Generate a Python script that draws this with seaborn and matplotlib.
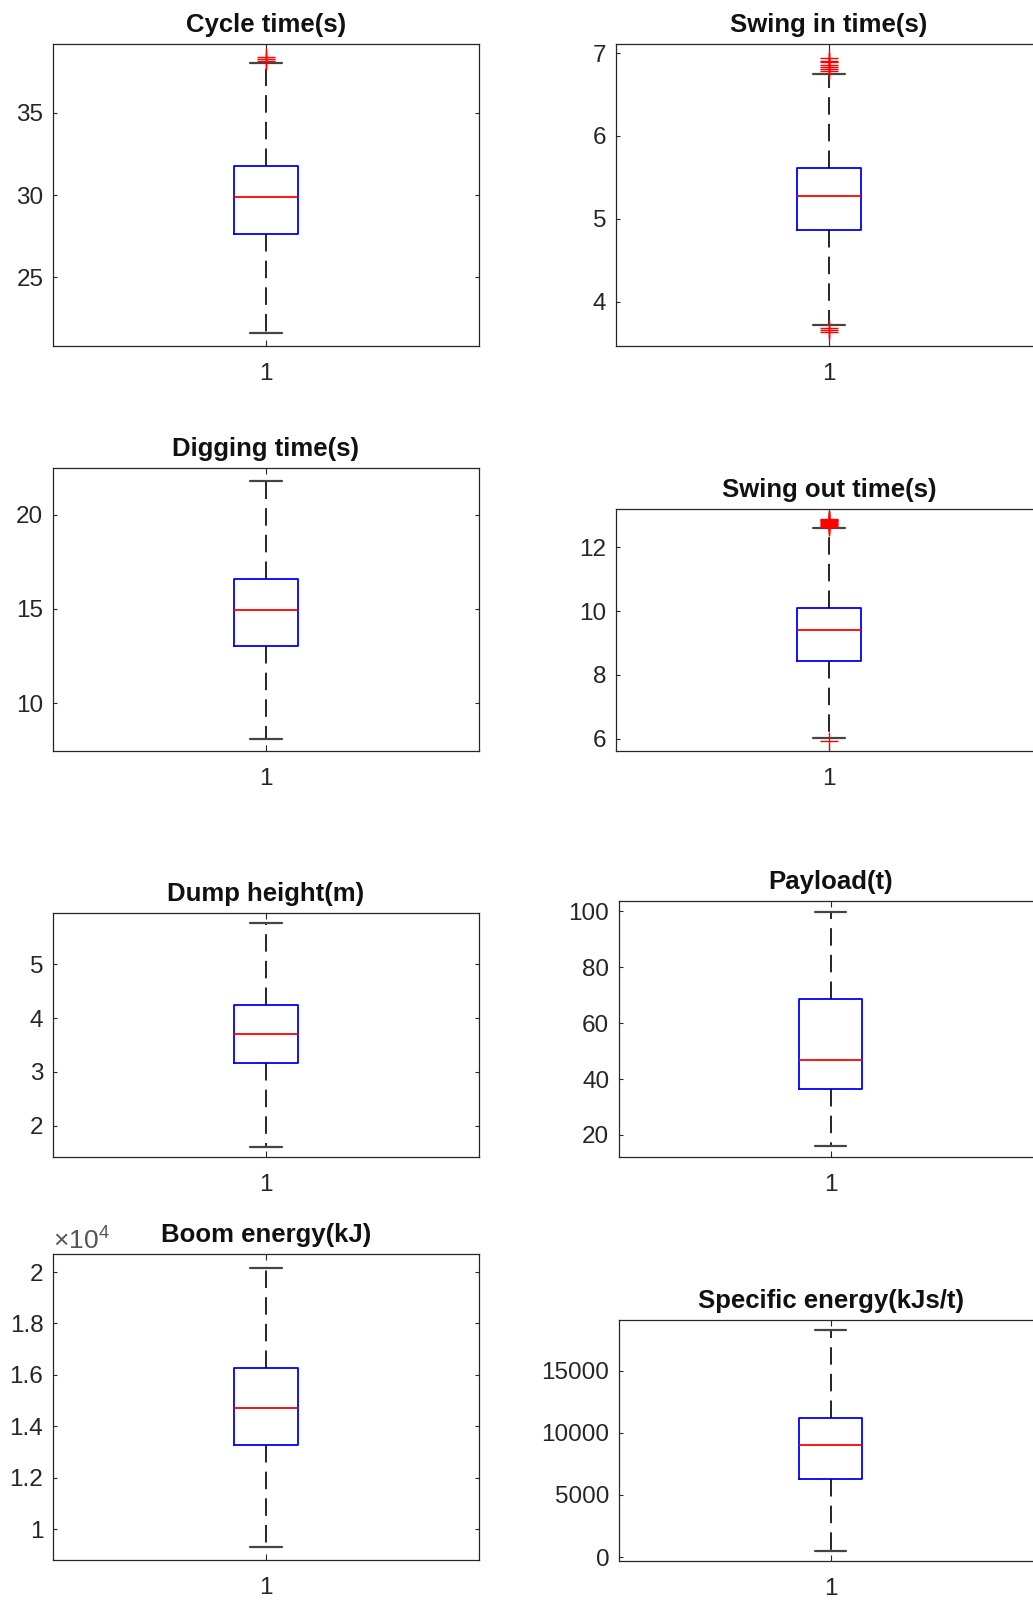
import matplotlib
matplotlib.use("Agg")
import matplotlib.pyplot as plt
from matplotlib.ticker import FuncFormatter
import seaborn as sns

# Box statistics for each excavator cycle metric
titles = ["Cycle time(s)", "Swing in time(s)", "Digging time(s)", "Swing out time(s)",
          "Dump height(m)", "Payload(t)", "Boom energy(kJ)", "Specific energy(kJs/t)"]
whisker_low = [21.6, 3.72, 8.1, 6.02, 1.60, 16.1, 9320, 510]
quartile_1 = [27.6, 4.86, 13.03, 8.44, 3.17, 36.4, 13260, 6310]
medians = [29.9, 5.28, 14.93, 9.39, 3.70, 46.8, 14730, 9060]
quartile_3 = [31.79, 5.61, 16.61, 10.10, 4.25, 68.7, 16270, 11180]
whisker_high = [38.03, 6.75, 21.81, 12.59, 5.76, 99.8, 20170, 18270]
outliers = [
    [38.17, 38.30, 38.38],
    [6.78, 6.81, 6.83, 6.86, 6.89, 6.91, 6.94, 3.63, 3.657, 3.686],
    [],
    [12.63, 12.66, 12.69, 12.72, 12.75, 12.78, 12.81, 12.84, 12.87, 12.90, 5.92],
    [],
    [],
    [],
    [],
]
y_limits = [(20.8, 39.2), (3.465, 7.11), (7.46, 22.48), (5.61, 13.2),
            (1.42, 5.95), (12.1, 103.7), (8810, 20700), (-320, 19100)]
y_ticks = [[25, 30, 35], [4, 5, 6, 7], [10, 15, 20], [6, 8, 10, 12],
           [2, 3, 4, 5], [20, 40, 60, 80, 100],
           [10000, 12000, 14000, 16000, 18000, 20000], [0, 5000, 10000, 15000]]
x_tick_labels = ["1"]

# Panel frames in pixels: left, top, bottom, width
W, H = 1033, 1600
frames = [(53, 44, 346, 426), (616, 44, 346, 426),
          (53, 468, 751, 426), (616, 509, 751, 426),
          (53, 913, 1157, 426), (619, 901, 1157, 423),
          (53, 1254, 1560, 426), (619, 1320, 1561, 423)]

sns.set_theme(style="white")
plt.rcParams["font.family"] = ["Liberation Sans", "DejaVu Sans"]
plt.rcParams["mathtext.fontset"] = "custom"
plt.rcParams["mathtext.rm"] = "Liberation Sans"

TXT = "#262626"
fig = plt.figure(figsize=(W / 100, H / 100), dpi=100)
fig.patch.set_facecolor("white")

for i in range(8):
    left, top, bottom, width = frames[i]
    ax = fig.add_axes([left / W, 1 - bottom / H, width / W, (bottom - top) / H])
    ax.set_facecolor("white")

    stats = [dict(whislo=whisker_low[i], q1=quartile_1[i], med=medians[i],
                  q3=quartile_3[i], whishi=whisker_high[i], fliers=[], label=x_tick_labels[0])]
    ax.bxp(stats, positions=[1], widths=0.15, capwidths=0.073, showfliers=False,
           boxprops=dict(color="#0000ff", lw=1.3),
           medianprops=dict(color="#ff0000", lw=1.3),
           whiskerprops=dict(color="black", lw=1.2, linestyle=(0, (10.5, 5.5))),
           capprops=dict(color="#444444", lw=1.6))

    if outliers[i]:
        sns.scatterplot(x=[1] * len(outliers[i]), y=outliers[i], marker="+", s=160,
                        color="#ff0000", linewidth=1.0, ax=ax, legend=False, zorder=5)

    ax.set_xlim(0.5, 1.5)
    ax.set_ylim(*y_limits[i])
    ax.set_xticks([1])
    ax.set_xticklabels(x_tick_labels)
    ax.set_yticks(y_ticks[i])
    if i == 6:
        ax.yaxis.set_major_formatter(FuncFormatter(lambda v, p: f"{v / 1e4:g}"))
        ax.text(0.0, 1.0, r"$\times10^{4}$", transform=ax.transAxes, ha="left",
                va="bottom", fontsize=19, color="#555555")
    else:
        ax.yaxis.set_major_formatter(FuncFormatter(lambda v, p: f"{v:g}"))

    ax.tick_params(axis="y", direction="in", left=True, right=True, length=2.6,
                   width=0.8, color=TXT, labelsize=17.5, labelcolor=TXT, pad=7)
    ax.tick_params(axis="x", direction="in", bottom=True, top=True, length=4,
                   width=0.8, color=TXT, labelsize=17.5, labelcolor=TXT, pad=12.5)
    for sp in ax.spines.values():
        sp.set_visible(True)
        sp.set_color(TXT)
        sp.set_linewidth(0.9)
    ax.set_title(titles[i], fontsize=18.5, fontweight="bold", color="#111111", pad=8.5)

fig.savefig("out.png", dpi=100, facecolor="white")
